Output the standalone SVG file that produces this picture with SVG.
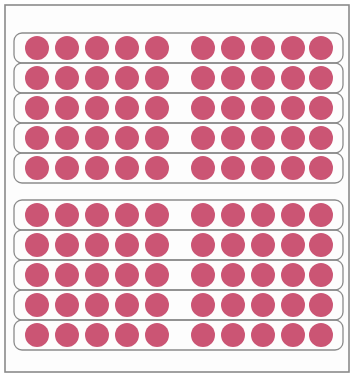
<svg xmlns="http://www.w3.org/2000/svg" width="353" height="374" viewBox="0 0 353 374">
<style>
.frame{fill:#fdfdfd;stroke:#8a8a8a;stroke-width:1.6}
.row{fill:none;stroke:#8c8c8c;stroke-width:1.3}
.bead{fill:#cb5574}
</style>
<defs>
<g id="beads">
<circle class="bead" cx="37" cy="0" r="12"/>
<circle class="bead" cx="67" cy="0" r="12"/>
<circle class="bead" cx="97" cy="0" r="12"/>
<circle class="bead" cx="127" cy="0" r="12"/>
<circle class="bead" cx="157" cy="0" r="12"/>
<circle class="bead" cx="203" cy="0" r="12"/>
<circle class="bead" cx="233" cy="0" r="12"/>
<circle class="bead" cx="263" cy="0" r="12"/>
<circle class="bead" cx="293" cy="0" r="12"/>
<circle class="bead" cx="321" cy="0" r="12"/>
</g>
</defs>
<rect width="353" height="374" fill="#ffffff"/>
<rect class="frame" x="5" y="5" width="344" height="367"/>
<g id="top-group">
<g id="row1"><rect class="row" x="14" y="33" width="329" height="30" rx="8"/><use href="#beads" y="48"/></g>
<g id="row2"><rect class="row" x="14" y="63" width="329" height="30" rx="8"/><use href="#beads" y="78"/></g>
<g id="row3"><rect class="row" x="14" y="93" width="329" height="30" rx="8"/><use href="#beads" y="108"/></g>
<g id="row4"><rect class="row" x="14" y="123" width="329" height="30" rx="8"/><use href="#beads" y="138"/></g>
<g id="row5"><rect class="row" x="14" y="153" width="329" height="30" rx="8"/><use href="#beads" y="168"/></g>
</g>
<g id="bottom-group">
<g id="row6"><rect class="row" x="14" y="200" width="329" height="30" rx="8"/><use href="#beads" y="215"/></g>
<g id="row7"><rect class="row" x="14" y="230" width="329" height="30" rx="8"/><use href="#beads" y="245"/></g>
<g id="row8"><rect class="row" x="14" y="260" width="329" height="30" rx="8"/><use href="#beads" y="275"/></g>
<g id="row9"><rect class="row" x="14" y="290" width="329" height="30" rx="8"/><use href="#beads" y="305"/></g>
<g id="row10"><rect class="row" x="14" y="320" width="329" height="30" rx="8"/><use href="#beads" y="335"/></g>
</g>
</svg>
